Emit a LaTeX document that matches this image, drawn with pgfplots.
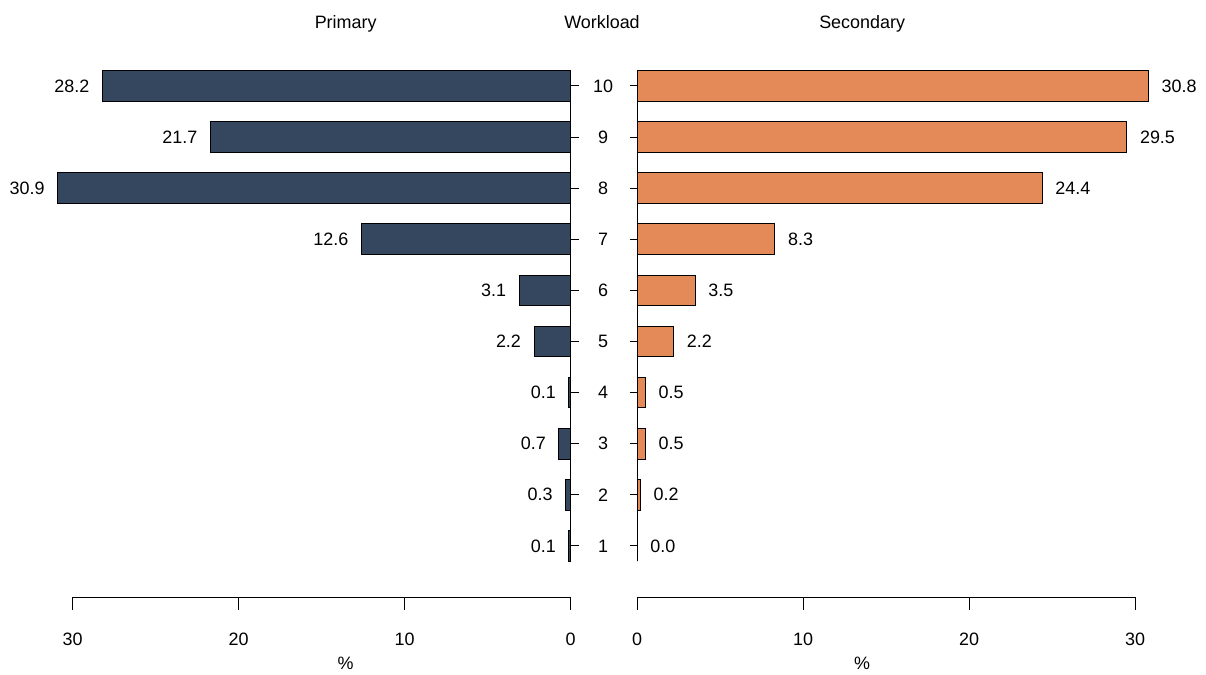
\documentclass[border=0pt]{standalone}
\usepackage{fontspec}
\setmainfont{Liberation Sans}
\usepackage{pgfplots}
\pgfplotsset{compat=1.18}
\definecolor{navy}{HTML}{34475E}
\definecolor{peach}{HTML}{E38A58}
\begin{document}
\begin{tikzpicture}[font=\fontsize{9}{11}\selectfont]
\path[use as bounding box] (0,0) rectangle (603bp,337.5bp);
\pgfplotsset{
  panel/.style={
    xbar, bar width=0.6, y=25.55bp,
    xmin=0, xmax=32, ymin=0, ymax=10.8,
    clip=false,
    axis line style={draw=none},
    /pgf/number format/assume math mode=true,
    xtick={0,10,20,30}, xtick pos=bottom,
    ytick={1,...,10},
    tick align=outside,
    major tick length=6.5bp,
    tick style={line width=0.5pt, black},
    ytick style={draw=none},
    xticklabel style={yshift=-8bp},
    point meta=x,
    nodes near coords={\pgfmathprintnumber[fixed,fixed zerofill,precision=1]{\pgfplotspointmeta}},
    x label style={at={(axis cs:13.55,0)}, anchor=center, yshift=-33bp},
    xlabel={\%},
    title style={at={(axis cs:13.55,10.98)}, anchor=center},
  }
}
% left panel
\begin{axis}[panel, x=8.3bp, x dir=reverse,
  anchor=south east, at={(285.3bp,39bp)},
  ytick pos=left, yticklabels={},
  every node near coord/.append style={anchor=east, xshift=-3bp, black},
  title={Primary}]
\addplot[fill=navy, draw=black, line width=0.5pt] coordinates {
(0.1,1) (0.3,2) (0.7,3) (0.1,4) (2.2,5) (3.1,6) (12.6,7) (30.9,8) (21.7,9) (28.2,10)};
\draw[line width=0.5pt] (axis cs:0,0) -- (axis cs:30,0);
\draw[line width=0.5pt] (axis cs:0,0.7) -- (axis cs:0,10.3);
\pgfplotsinvokeforeach{1,...,10}{\draw[line width=0.5pt] (axis cs:0,#1) -- ++(4bp,0);}
\end{axis}
% right panel
\begin{axis}[panel, x=8.3bp,
  anchor=south west, at={(318.6bp,39bp)},
  ytick pos=left,
  yticklabel style={anchor=center, xshift=-10.5bp},
  every node near coord/.append style={anchor=west, xshift=3bp, black},
  title={Secondary}]
\addplot[fill=peach, draw=black, line width=0.5pt] coordinates {
(0.0,1) (0.2,2) (0.5,3) (0.5,4) (2.2,5) (3.5,6) (8.3,7) (24.4,8) (29.5,9) (30.8,10)};
\draw[line width=0.5pt] (axis cs:0,0) -- (axis cs:30,0);
\draw[line width=0.5pt] (axis cs:0,0.7) -- (axis cs:0,10.3);
\pgfplotsinvokeforeach{1,...,10}{\draw[line width=0.5pt] (axis cs:0,#1) -- ++(-3.5bp,0);}
\end{axis}
\node at (301bp,326.5bp) {Workload};
\end{tikzpicture}
\end{document}
